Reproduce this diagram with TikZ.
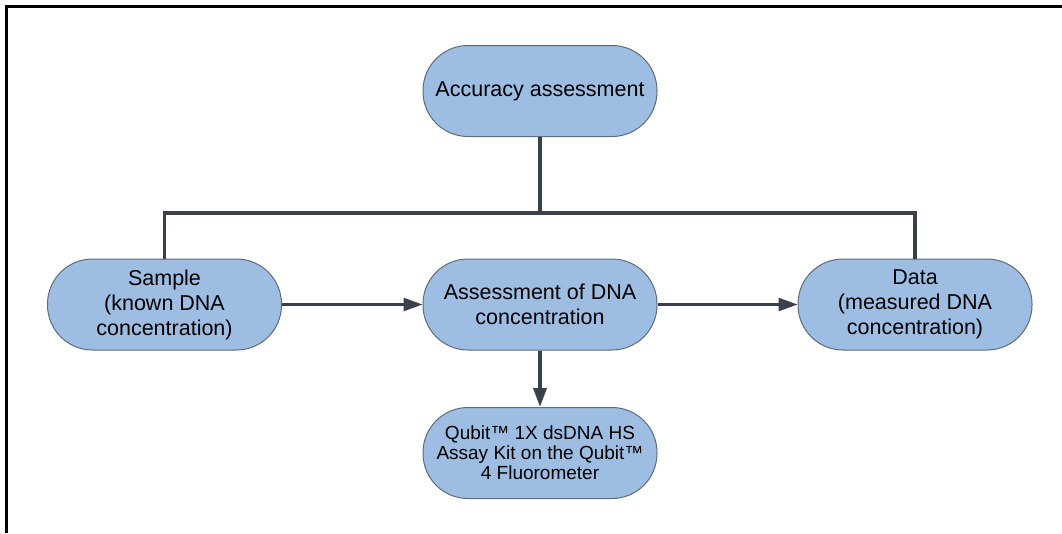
\documentclass[tikz,border=0pt]{standalone}
\usepackage{fontspec}
\setmainfont{Liberation Sans}
\usetikzlibrary{arrows.meta}
\definecolor{boxfill}{RGB}{157,190,226}
\definecolor{boxline}{RGB}{94,108,124}
\definecolor{wire}{RGB}{58,65,74}

\begin{document}
\begin{tikzpicture}[x=1pt, y=-1pt, >={Triangle[length=19pt,width=13pt]},
    box/.style={draw=boxline, line width=1pt, fill=boxfill, rounded corners=45pt,
        minimum width=234pt, minimum height=91pt, inner sep=0pt, align=center,
        font=\fontsize{21.5}{25}\selectfont},
    tree/.style={wire, line width=3.5pt},
    flow/.style={wire, line width=2.5pt, ->}]
\useasboundingbox (0,0) rectangle (1062,533);
% frame
\draw[line width=2.5pt] (6.5,533) -- (6.5,6.5) -- (1062,6.5);
% nodes
\node[box] (acc) at (540,91) {Accuracy assessment};
\node[box] (sample) at (164.5,304.5) {Sample\\(known DNA\\concentration)};
\node[box] (assess) at (540,304.5) {Assessment of DNA\\concentration};
\node[box] (data) at (915,304.5) {Data\\(measured DNA\\concentration)};
\node[box, font=\fontsize{19}{20}\selectfont] (kit) at (540,453)
    {Qubit™ 1X dsDNA HS\\Assay Kit on the Qubit™\\4 Fluorometer};
% tree
\draw[tree] (acc) -- (acc |- 0,213) coordinate (fork);
\draw[tree] (fork) -| (sample);
\draw[tree] (fork) -| (data);
% arrows
\draw[flow] (sample) -- (assess);
\draw[flow] (assess) -- (data);
\draw[flow, line width=3.5pt] (assess) -- (kit);
\end{tikzpicture}
\end{document}
